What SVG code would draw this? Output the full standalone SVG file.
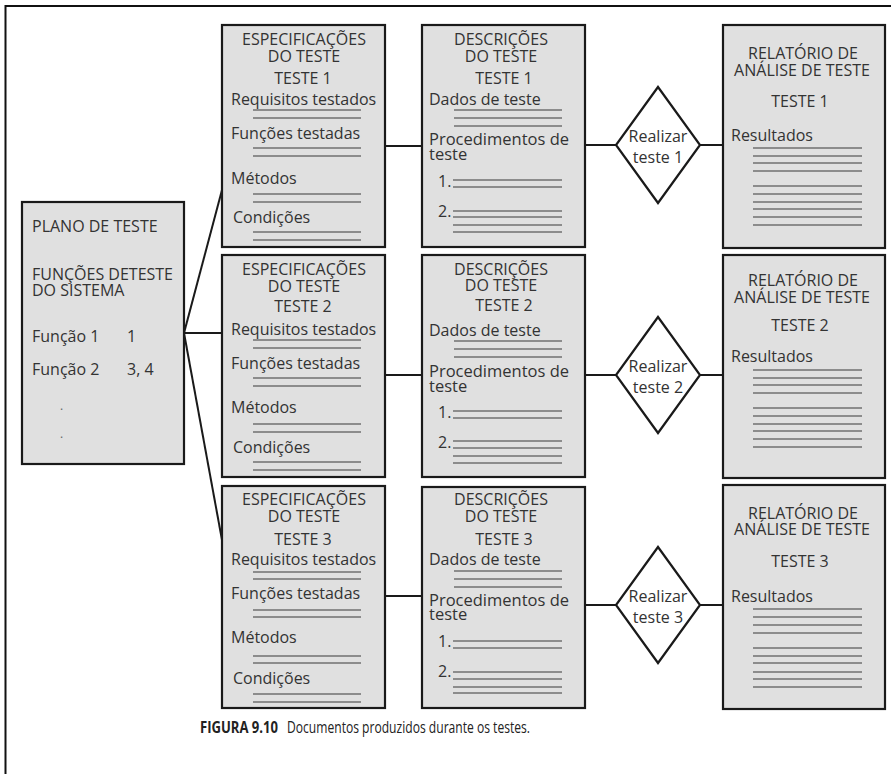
<svg xmlns="http://www.w3.org/2000/svg" width="891" height="774" viewBox="0 0 891 774">
<style>
.box{fill:#e0e0e0;stroke:#1a1a1a;stroke-width:2.2}
.dia{fill:#ffffff;stroke:#1a1a1a;stroke-width:2.2}
.con{stroke:#1a1a1a;stroke-width:2;fill:none}
.ln{stroke:#707070;stroke-width:1.6}
text{font-family:"Open Sans","Liberation Sans",sans-serif;font-size:16px;fill:#333333}
.c{text-anchor:middle}
.p{font-size:16.5px}
.cap{font-size:16.5px;fill:#222222}
.b{font-weight:bold}
</style>
<rect width="891" height="774" fill="#ffffff"/>
<path d="M5.5,774 V6 H891" fill="none" stroke="#111" stroke-width="2"/>

<g id="connectors">
<line class="con" x1="184" y1="333" x2="222" y2="190"/>
<line class="con" x1="184" y1="333" x2="222" y2="333"/>
<line class="con" x1="184" y1="333" x2="222" y2="540"/>
<line class="con" x1="385" y1="146" x2="422" y2="146"/>
<line class="con" x1="585" y1="145" x2="616" y2="145"/>
<line class="con" x1="700" y1="145" x2="723" y2="145"/>
<line class="con" x1="385" y1="375" x2="422" y2="375"/>
<line class="con" x1="585" y1="375" x2="616" y2="375"/>
<line class="con" x1="700" y1="375" x2="723" y2="375"/>
<line class="con" x1="385" y1="596" x2="422" y2="596"/>
<line class="con" x1="585" y1="605" x2="616" y2="605"/>
<line class="con" x1="700" y1="605" x2="723" y2="605"/>
</g>

<g id="plano">
<rect class="box" x="22" y="202" width="162" height="262"/>
<text x="32" y="232">PLANO DE TESTE</text>
<text x="32" y="280">FUNÇÕES DETESTE</text>
<text x="32" y="296">DO SISTEMA</text>
<text x="32" y="342">Função 1</text>
<text x="127" y="342">1</text>
<text x="32" y="375">Função 2</text>
<text x="127" y="375">3, 4</text>
<text x="60" y="410" style="font-size:12px;fill:#666">.</text>
<text x="60" y="438" style="font-size:12px;fill:#666">.</text>
</g>

<g id="spec1">
<rect class="box" x="222" y="25" width="163" height="222"/>
<text class="c" x="304" y="45">ESPECIFICAÇÕES</text>
<text class="c" x="304" y="62">DO TESTE</text>
<text class="c" x="303" y="84">TESTE 1</text>
<text x="231" y="105">Requisitos testados</text>
<line class="ln" x1="253" y1="110" x2="361" y2="110"/><line class="ln" x1="253" y1="118" x2="361" y2="118"/>
<text x="231" y="139">Funções testadas</text>
<line class="ln" x1="253" y1="148" x2="361" y2="148"/><line class="ln" x1="253" y1="156" x2="361" y2="156"/>
<text x="231" y="184">Métodos</text>
<line class="ln" x1="253" y1="194" x2="361" y2="194"/><line class="ln" x1="253" y1="202" x2="361" y2="202"/>
<text x="233" y="223">Condições</text>
<line class="ln" x1="253" y1="232" x2="361" y2="232"/><line class="ln" x1="253" y1="240" x2="361" y2="240"/>
</g>

<g id="spec2">
<rect class="box" x="222" y="255" width="163" height="222"/>
<text class="c" x="304" y="275">ESPECIFICAÇÕES</text>
<text class="c" x="304" y="292">DO TESTE</text>
<text class="c" x="303" y="312">TESTE 2</text>
<text x="231" y="335">Requisitos testados</text>
<line class="ln" x1="253" y1="340" x2="361" y2="340"/><line class="ln" x1="253" y1="348" x2="361" y2="348"/>
<text x="231" y="369">Funções testadas</text>
<line class="ln" x1="253" y1="378" x2="361" y2="378"/><line class="ln" x1="253" y1="386" x2="361" y2="386"/>
<text x="231" y="413">Métodos</text>
<line class="ln" x1="253" y1="424" x2="361" y2="424"/><line class="ln" x1="253" y1="432" x2="361" y2="432"/>
<text x="233" y="453">Condições</text>
<line class="ln" x1="253" y1="462" x2="361" y2="462"/><line class="ln" x1="253" y1="470" x2="361" y2="470"/>
</g>

<g id="spec3">
<rect class="box" x="222" y="486" width="163" height="222"/>
<text class="c" x="304" y="505">ESPECIFICAÇÕES</text>
<text class="c" x="304" y="522">DO TESTE</text>
<text class="c" x="303" y="545">TESTE 3</text>
<text x="231" y="565">Requisitos testados</text>
<line class="ln" x1="253" y1="572" x2="361" y2="572"/><line class="ln" x1="253" y1="579" x2="361" y2="579"/>
<text x="231" y="599">Funções testadas</text>
<line class="ln" x1="253" y1="610" x2="361" y2="610"/><line class="ln" x1="253" y1="617" x2="361" y2="617"/>
<text x="231" y="643">Métodos</text>
<line class="ln" x1="253" y1="656" x2="361" y2="656"/><line class="ln" x1="253" y1="663" x2="361" y2="663"/>
<text x="233" y="684">Condições</text>
<line class="ln" x1="253" y1="694" x2="361" y2="694"/><line class="ln" x1="253" y1="702" x2="361" y2="702"/>
</g>

<g id="desc1">
<rect class="box" x="422" y="25" width="163" height="222"/>
<text class="c" x="501" y="45">DESCRIÇÕES</text>
<text class="c" x="501" y="62">DO TESTE</text>
<text class="c" x="504" y="84">TESTE 1</text>
<text x="429" y="105">Dados de teste</text>
<line class="ln" x1="454" y1="110" x2="562" y2="110"/><line class="ln" x1="454" y1="118" x2="562" y2="118"/><line class="ln" x1="454" y1="126" x2="562" y2="126"/>
<text class="p" x="429" y="145">Procedimentos de</text>
<text class="p" x="429" y="160">teste</text>
<text x="438" y="187">1.</text>
<line class="ln" x1="453" y1="180" x2="562" y2="180"/><line class="ln" x1="453" y1="187" x2="562" y2="187"/>
<text x="438" y="217">2.</text>
<line class="ln" x1="453" y1="211" x2="562" y2="211"/><line class="ln" x1="453" y1="217" x2="562" y2="217"/><line class="ln" x1="453" y1="225" x2="562" y2="225"/><line class="ln" x1="453" y1="232" x2="562" y2="232"/>
</g>

<g id="desc2">
<rect class="box" x="422" y="255" width="163" height="222"/>
<text class="c" x="501" y="275">DESCRIÇÕES</text>
<text class="c" x="501" y="291">DO TESTE</text>
<text class="c" x="504" y="311">TESTE 2</text>
<text x="429" y="336">Dados de teste</text>
<line class="ln" x1="454" y1="341" x2="562" y2="341"/><line class="ln" x1="454" y1="349" x2="562" y2="349"/><line class="ln" x1="454" y1="357" x2="562" y2="357"/>
<text class="p" x="429" y="377">Procedimentos de</text>
<text class="p" x="429" y="392">teste</text>
<text x="438" y="418">1.</text>
<line class="ln" x1="453" y1="411" x2="562" y2="411"/><line class="ln" x1="453" y1="418" x2="562" y2="418"/>
<text x="438" y="448">2.</text>
<line class="ln" x1="453" y1="441" x2="562" y2="441"/><line class="ln" x1="453" y1="448" x2="562" y2="448"/><line class="ln" x1="453" y1="456" x2="562" y2="456"/><line class="ln" x1="453" y1="463" x2="562" y2="463"/>
</g>

<g id="desc3">
<rect class="box" x="422" y="487" width="163" height="221"/>
<text class="c" x="501" y="505">DESCRIÇÕES</text>
<text class="c" x="501" y="522">DO TESTE</text>
<text class="c" x="504" y="545">TESTE 3</text>
<text x="429" y="565">Dados de teste</text>
<line class="ln" x1="454" y1="571" x2="562" y2="571"/><line class="ln" x1="454" y1="579" x2="562" y2="579"/><line class="ln" x1="454" y1="587" x2="562" y2="587"/>
<text class="p" x="429" y="606">Procedimentos de</text>
<text class="p" x="429" y="620">teste</text>
<text x="438" y="647">1.</text>
<line class="ln" x1="453" y1="641" x2="562" y2="641"/><line class="ln" x1="453" y1="648" x2="562" y2="648"/>
<text x="438" y="677">2.</text>
<line class="ln" x1="453" y1="672" x2="562" y2="672"/><line class="ln" x1="453" y1="679" x2="562" y2="679"/><line class="ln" x1="453" y1="687" x2="562" y2="687"/><line class="ln" x1="453" y1="693" x2="562" y2="693"/>
</g>

<g id="realizar1">
<polygon class="dia" points="658,87 700,145 658,203 616,145"/>
<text class="c" x="658" y="142">Realizar</text>
<text class="c" x="658" y="163">teste 1</text>
</g>
<g id="realizar2">
<polygon class="dia" points="658,317 700,375 658,433 616,375"/>
<text class="c" x="658" y="372">Realizar</text>
<text class="c" x="658" y="393">teste 2</text>
</g>
<g id="realizar3">
<polygon class="dia" points="658,547 700,605 658,663 616,605"/>
<text class="c" x="658" y="602">Realizar</text>
<text class="c" x="658" y="623">teste 3</text>
</g>

<g id="relatorio1">
<rect class="box" x="723" y="25" width="162" height="223"/>
<text class="c" x="803" y="59">RELATÓRIO DE</text>
<text class="c" x="802" y="76">ANÁLISE DE TESTE</text>
<text class="c" x="800" y="107">TESTE 1</text>
<text x="731" y="141">Resultados</text>
<line class="ln" x1="753" y1="148" x2="862" y2="148"/><line class="ln" x1="753" y1="156" x2="862" y2="156"/><line class="ln" x1="753" y1="163" x2="862" y2="163"/><line class="ln" x1="753" y1="171" x2="862" y2="171"/>
<line class="ln" x1="753" y1="186" x2="862" y2="186"/><line class="ln" x1="753" y1="194" x2="862" y2="194"/><line class="ln" x1="753" y1="202" x2="862" y2="202"/><line class="ln" x1="753" y1="209" x2="862" y2="209"/><line class="ln" x1="753" y1="217" x2="862" y2="217"/><line class="ln" x1="753" y1="225" x2="862" y2="225"/>
</g>

<g id="relatorio2">
<rect class="box" x="723" y="255" width="162" height="223"/>
<text class="c" x="803" y="286">RELATÓRIO DE</text>
<text class="c" x="802" y="303">ANÁLISE DE TESTE</text>
<text class="c" x="800" y="331">TESTE 2</text>
<text x="731" y="362">Resultados</text>
<line class="ln" x1="753" y1="370" x2="862" y2="370"/><line class="ln" x1="753" y1="378" x2="862" y2="378"/><line class="ln" x1="753" y1="385" x2="862" y2="385"/><line class="ln" x1="753" y1="393" x2="862" y2="393"/>
<line class="ln" x1="753" y1="408" x2="862" y2="408"/><line class="ln" x1="753" y1="416" x2="862" y2="416"/><line class="ln" x1="753" y1="424" x2="862" y2="424"/><line class="ln" x1="753" y1="431" x2="862" y2="431"/><line class="ln" x1="753" y1="439" x2="862" y2="439"/><line class="ln" x1="753" y1="447" x2="862" y2="447"/>
</g>

<g id="relatorio3">
<rect class="box" x="723" y="485" width="162" height="224"/>
<text class="c" x="803" y="519">RELATÓRIO DE</text>
<text class="c" x="802" y="535">ANÁLISE DE TESTE</text>
<text class="c" x="800" y="567">TESTE 3</text>
<text x="731" y="602">Resultados</text>
<line class="ln" x1="753" y1="609" x2="862" y2="609"/><line class="ln" x1="753" y1="617" x2="862" y2="617"/><line class="ln" x1="753" y1="625" x2="862" y2="625"/><line class="ln" x1="753" y1="633" x2="862" y2="633"/>
<line class="ln" x1="753" y1="648" x2="862" y2="648"/><line class="ln" x1="753" y1="656" x2="862" y2="656"/><line class="ln" x1="753" y1="663" x2="862" y2="663"/><line class="ln" x1="753" y1="672" x2="862" y2="672"/><line class="ln" x1="753" y1="679" x2="862" y2="679"/><line class="ln" x1="753" y1="687" x2="862" y2="687"/>
</g>

<g id="caption">
<text class="cap b" x="200" y="733" textLength="78" lengthAdjust="spacingAndGlyphs">FIGURA 9.10</text>
<text class="cap" x="287" y="733" textLength="243" lengthAdjust="spacingAndGlyphs">Documentos produzidos durante os testes.</text>
</g>
</svg>
